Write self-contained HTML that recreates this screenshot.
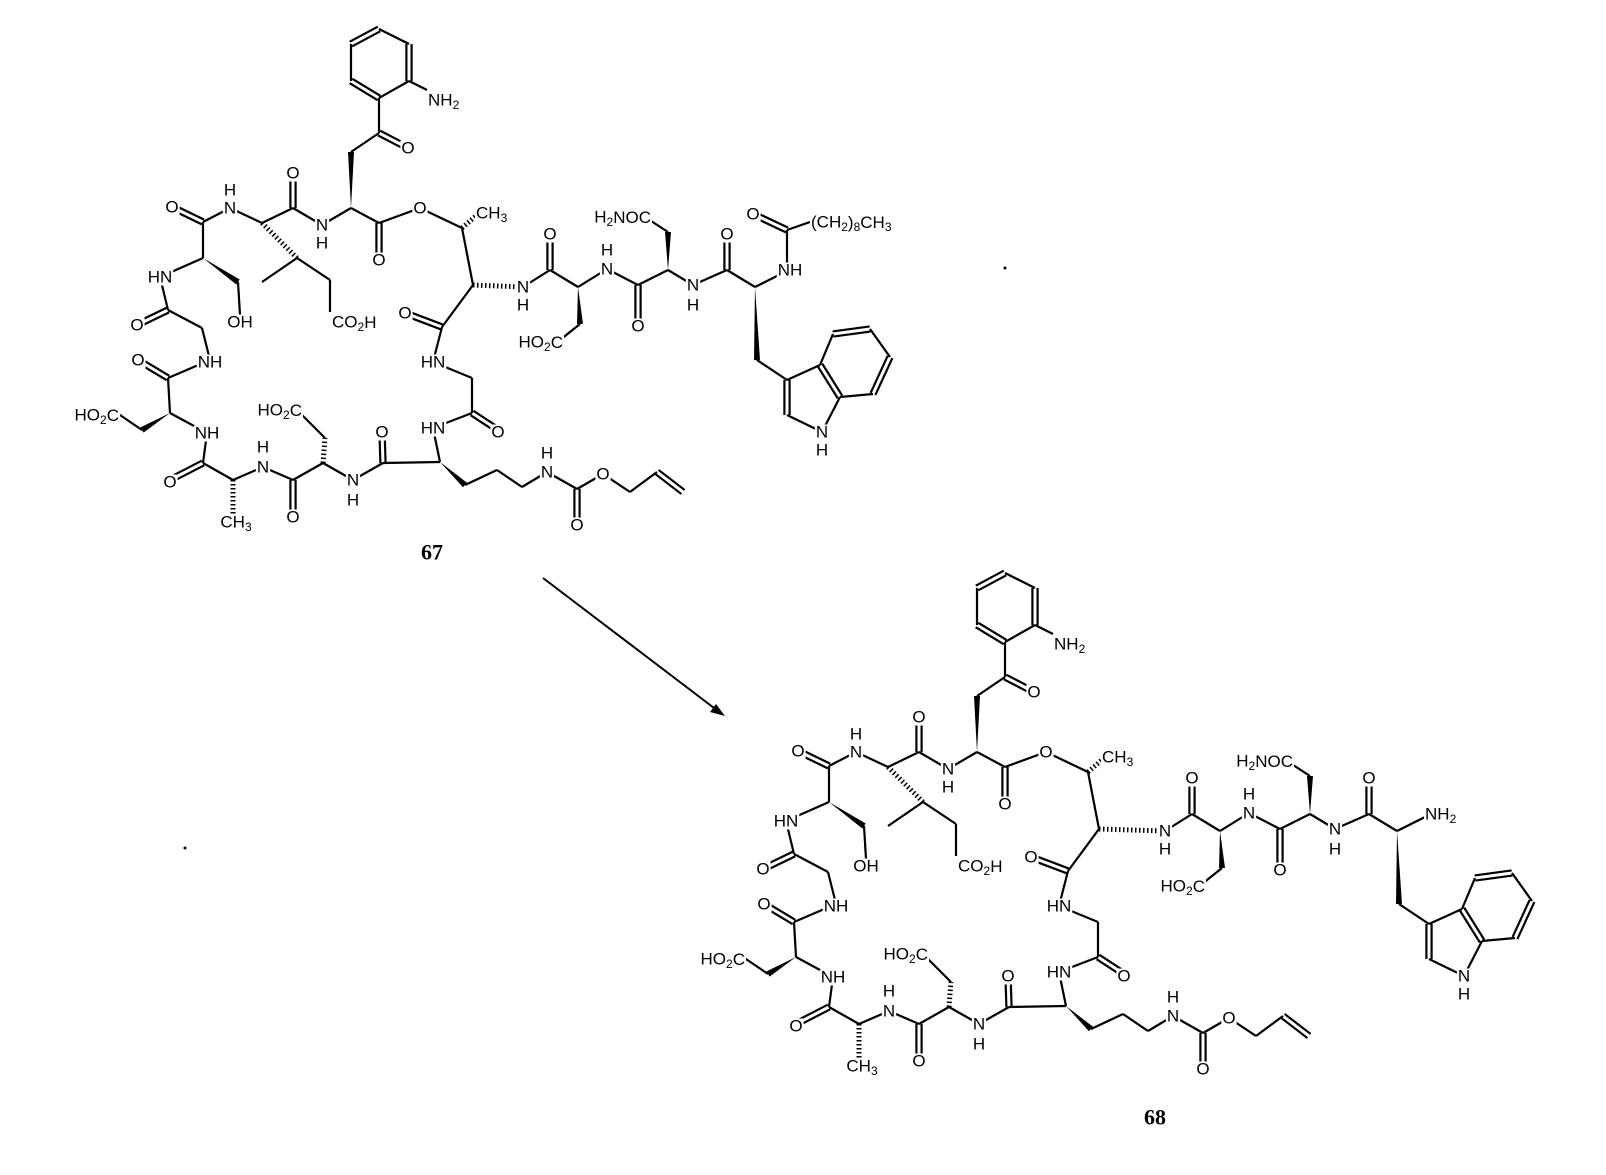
<!DOCTYPE html>
<html><head><meta charset="utf-8"><style>
html,body{margin:0;padding:0;background:#fff;width:1606px;height:1175px;overflow:hidden}
svg text{font-family:"Liberation Sans",Arial,sans-serif;font-size:17px;fill:#000;dominant-baseline:central}
</style></head><body>
<svg id="s" width="1606" height="1175" xmlns="http://www.w3.org/2000/svg">
<g id="mol67"></g>
<g id="mol68" transform="translate(626,544)"></g>
<line x1="543" y1="578" x2="718" y2="711" stroke="#000" stroke-width="2"/>
<polygon points="725,716 710,712 716,704" fill="#000"/>
<text x="432" y="552" text-anchor="middle" style="font-family:'Liberation Serif',serif;font-weight:bold;font-size:22px">67</text>
<text x="1155" y="1117" text-anchor="middle" style="font-family:'Liberation Serif',serif;font-weight:bold;font-size:22px">68</text>
<circle cx="1005" cy="268" r="1.5" fill="#000"/>
<circle cx="185" cy="848" r="1.5" fill="#000"/>
</svg>
<script>
var NS="http://www.w3.org/2000/svg";
var RING=[
["s",379,29,409,44],["d",409,44,409,81],["s",409,81,379,98],["d",379,98,351,81],["s",351,81,351,44],["d",351,44,379,29],
["s",409,81,427,90],["s",379,98,379,133],["d",379,133,408,148],["s",379,133,351,152],["w",351,208,351,152],
["s",351,208,322,225],["s",351,208,379,223],["d",379,223,379,260],["s",379,223,420,208],["s",420,208,462,228],["h",462,228,477,215],
["s",462,228,473,285],["s",473,285,442,327],["d",442,327,405,313],["s",442,327,433,362],["s",433,362,472,378],
["s",472,378,472,413],["d",472,413,498,430],["s",472,413,433,428],["s",433,428,440,462],["s",440,462,383,463],["d",383,463,382,432],
["s",383,463,353,480],["s",353,480,323,463],["h",323,463,325,438],["s",325,438,300,413],["s",323,463,293,480],["d",293,480,293,515],
["s",293,480,263,467],["s",263,467,233,480],["h",233,480,233,515],["s",233,480,203,463],["d",203,463,170,480],["s",203,463,207,433],
["s",207,433,170,413],["w",170,413,142,430],["s",142,430,117,413],["s",170,413,168,378],["d",168,378,138,360],["s",168,378,210,360],
["s",210,360,202,328],["s",202,328,168,310],["d",168,310,137,325],["s",168,310,160,277],["s",160,277,203,258],["w",203,258,238,282],
["s",238,282,240,315],["s",203,258,203,222],["d",203,222,172,207],["s",203,222,230,208],["s",230,208,262,223],["h",262,223,297,258],
["s",297,258,262,282],["s",297,258,330,280],["s",330,280,330,312],["s",262,223,293,208],["d",293,208,293,173],["s",293,208,322,225],
["w",440,462,465,485],["s",465,485,497,470],["s",497,470,522,487],["s",522,487,547,472],["s",547,472,577,489],["d",577,489,577,523],
["s",577,489,603,474],["s",603,474,630,492],["s",630,492,657,472],["d",657,472,683,492]
];
var RIGHT=[
["s",523,287,550,270],["d",550,270,550,234],["s",550,270,578,287],["w",578,287,580,324],["s",580,324,560,340],["s",578,287,607,269],
["s",607,269,638,285],["d",638,285,638,324],["s",638,285,668,270],["w",668,270,668,232],["s",668,232,648,219],["s",668,270,693,285],
["s",693,285,727,270],["d",727,270,727,234],["s",727,270,755,287],["s",755,287,785,272],["w",755,287,757,360],["s",757,360,787,380],
["d",787,380,787,415],["s",787,380,820,365],["s",787,415,822,432],["s",822,432,840,397],["d",820,365,840,397],["s",820,365,833,334],
["d",833,334,870,329],["s",870,329,890,357],["d",890,357,873,394],["s",873,394,840,397]
];
var ACYL=[["s",787,272,787,230],["d",787,230,753,214],["s",787,230,810,222]];
function sub(a,b){return a+"<tspan dy='5' font-size='12'>"+b+"</tspan>";}
var TR=[
[428,100,sub("NH","2"),"start"],[408,148,"O"],[293,173,"O"],[172,207,"O"],[230,208,"N"],[230,190,"H"],
[322,225,"N"],[322,243,"H"],[379,260,"O"],[420,208,"O"],[476,213,sub("CH","3"),"start"],
[160,277,"HN"],[240,322,"OH"],[332,322,sub("CO","2")+"<tspan dy='-5'>H</tspan>","start"],[137,325,"O"],
[210,362,"NH"],[138,360,"O"],[405,313,"O"],[433,362,"HN"],
[119,415,sub("HO","2")+"<tspan dy='-5'>C</tspan>","end"],[302,410,sub("HO","2")+"<tspan dy='-5'>C</tspan>","end"],
[498,432,"O"],[433,428,"HN"],[170,482,"O"],[207,433,"NH"],[382,432,"O"],[353,480,"N"],[353,500,"H"],[293,517,"O"],
[263,467,"N"],[263,447,"H"],[236,522,sub("CH","3")],
[547,472,"N"],[547,453,"H"],[577,525,"O"],[603,474,"O"]
];
var TRI=[
[523,287,"N"],[523,305,"H"],
[550,234,"O"],[607,269,"N"],[607,250,"H"],[638,326,"O"],[563,342,sub("HO","2")+"<tspan dy='-5'>C</tspan>","end"],
[651,217,sub("H","2")+"<tspan dy='-5'>NOC</tspan>","end"],[693,285,"N"],[693,305,"H"],[727,234,"O"],
[822,432,"N"],[822,450,"H"]
];
function add(g,arr,txt){
 arr.forEach(function(b){
  var t=b[0],x1=b[1],y1=b[2],x2=b[3],y2=b[4],dx=x2-x1,dy=y2-y1,L=Math.hypot(dx,dy),nx=-dy/L,ny=dx/L,e;
  if(t=="w"){e=document.createElementNS(NS,"polygon");
   e.setAttribute("points",x1+","+y1+" "+(x2+nx*3)+","+(y2+ny*3)+" "+(x2-nx*3)+","+(y2-ny*3));e.setAttribute("fill","#000");g.appendChild(e);return;}
  var lines=t=="d"?[2.6,-2.6]:[0];
  lines.forEach(function(o){e=document.createElementNS(NS,"line");
   e.setAttribute("x1",x1+nx*o);e.setAttribute("y1",y1+ny*o);e.setAttribute("x2",x2+nx*o);e.setAttribute("y2",y2+ny*o);
   e.setAttribute("stroke","#000");
   if(t=="h"){e.setAttribute("stroke-width","5");e.setAttribute("stroke-dasharray","1.5,2.5");}else e.setAttribute("stroke-width","2.2");
   g.appendChild(e);});
 });
 txt.forEach(function(a){var e=document.createElementNS(NS,"text");e.setAttribute("x",a[0]);e.setAttribute("y",a[1]);
  e.setAttribute("text-anchor",a[3]||"middle");e.innerHTML=a[2];g.appendChild(e);
  try{var bb=e.getBBox();var r=document.createElementNS(NS,"rect");
   r.setAttribute("x",bb.x-1);r.setAttribute("y",bb.y+2);r.setAttribute("width",bb.width+2);r.setAttribute("height",bb.height-3);
   r.setAttribute("fill","#fff");g.insertBefore(r,e);}catch(err){}
 });
}
var g67=document.getElementById("mol67");
add(g67,RING.concat([["h",473,285,523,287]]),[]);
add(g67,RIGHT.concat(ACYL),[]);
add(g67,[],TR.concat(TRI).concat([[790,270,"NH"],[753,214,"O"],[811,222,sub("(CH","2")+"<tspan dy='-5'>)</tspan>"+"<tspan dy='5' font-size='12'>8</tspan><tspan dy='-5'>CH</tspan><tspan dy='5' font-size='12'>3</tspan>","start"]]));
var g68=document.getElementById("mol68");
var g68r=document.createElementNS(NS,"g");g68r.setAttribute("transform","translate(16,0)");
add(g68,RING.concat([["h",473,285,539,287]]),[]);
g68.appendChild(g68r);
add(g68r,RIGHT,[]);
add(g68,[],TR);
add(g68r,[],TRI.concat([[783,270,sub("NH","2"),"start"]]));
</script>
</body></html>
